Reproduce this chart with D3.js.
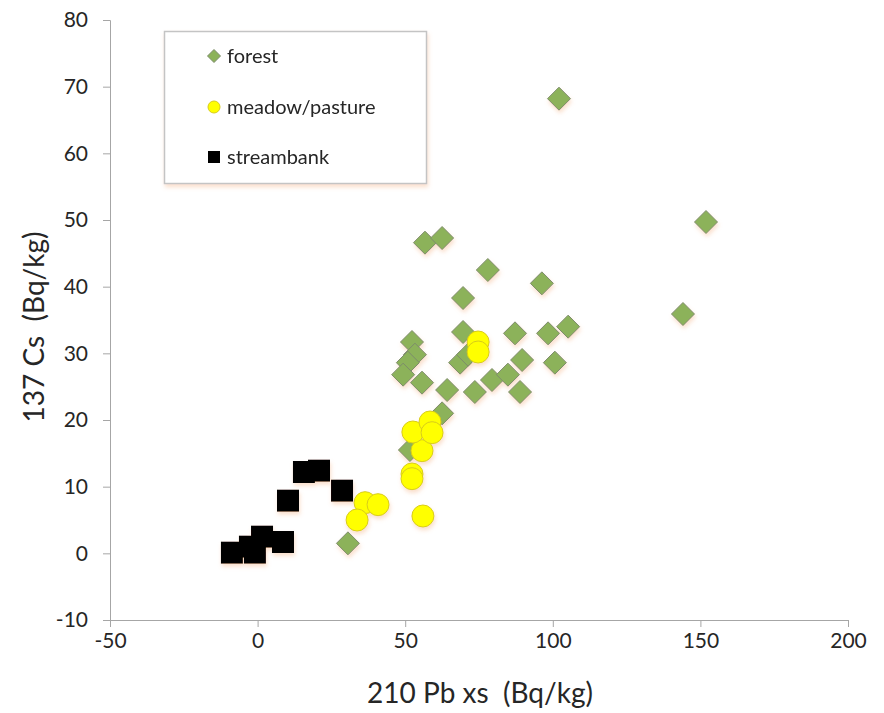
<!DOCTYPE html>
<html>
<head>
<meta charset="utf-8">
<script src="https://cdn.jsdelivr.net/npm/d3@7"></script>
<style>
  html, body { margin: 0; padding: 0; background: #fff; }
  svg text { font-family: Lato, "Open Sans", sans-serif; fill: #262626; }
</style>
</head>
<body>
<div id="chart"></div>
<script>
// --- data: [210Pb xs, 137Cs] in Bq/kg ---
const forest = [
  [56.7, 46.6], [62.5, 47.3], [78, 42.5], [96.3, 40.5], [69.6, 38.3],
  [69.6, 33.2], [87.2, 33.0], [98.4, 33.0], [105.2, 34.0], [52.3, 31.7],
  [53.3, 29.8], [50.9, 28.6], [49.3, 26.8], [55.7, 25.6], [64.2, 24.5],
  [68.6, 28.6], [71.3, 29.8], [73.6, 24.2], [79.4, 26.0], [84.8, 26.8],
  [89.6, 29.0], [88.9, 24.2], [100.7, 28.6], [62.5, 21.0], [51.6, 15.5],
  [30.6, 1.5], [102.1, 68.2], [151.9, 49.7], [144.1, 35.9]
];
const meadow = [
  [36.4, 7.6], [40.8, 7.3], [33.7, 5.0], [56, 5.6], [52.3, 11.9],
  [52.3, 11.2], [55.7, 15.4], [52.6, 18.2], [58.4, 19.7], [59.1, 18.1],
  [74.7, 31.7], [74.7, 30.2]
];
const streambank = [
  [15.7, 12.2], [20.8, 12.4], [10.3, 7.9], [28.6, 9.4], [-8.7, 0.1],
  [-2.6, 1.0], [1.5, 2.5], [-0.9, 0.1], [8.6, 1.7]
];
const xTicks = [-50, 0, 50, 100, 150, 200];
const yTicks = [-10, 0, 10, 20, 30, 40, 50, 60, 70, 80];
const seriesNames = ["forest", "meadow/pasture", "streambank"];

const W = 884, H = 713;
const axisColor = "#a6a6a6";

const svg = d3.select("#chart").append("svg")
  .attr("width", W).attr("height", H);

// soft orange-ish shadow like the office chart
const defs = svg.append("defs");
const f = defs.append("filter").attr("id", "shadow")
  .attr("x", "-50%").attr("y", "-50%").attr("width", "200%").attr("height", "200%");
f.append("feDropShadow").attr("dx", 1).attr("dy", 3).attr("stdDeviation", 2)
  .attr("flood-color", "#f2a46e").attr("flood-opacity", 0.35);

const x = d3.scaleLinear().domain([-50, 200]).range([110, 848]);
const y = d3.scaleLinear().domain([-10, 80]).range([620, 20]);

// axes (plain hyphen for negatives, as in the original)
const xAxis = svg.append("g")
  .attr("transform", `translate(0,${y(-10)})`)
  .call(d3.axisBottom(x).tickValues(xTicks).tickFormat(d => String(d)).tickSize(7).tickPadding(6));
const yAxis = svg.append("g")
  .attr("transform", `translate(${x(-50)},0)`)
  .call(d3.axisLeft(y).tickValues(yTicks).tickFormat(d => String(d)).tickSize(7).tickPadding(15));
[xAxis, yAxis].forEach(g => {
  g.selectAll("path, line").attr("stroke", axisColor);
  g.selectAll("text").style("font-size", "21px").attr("fill", "#262626");
});

// axis titles
svg.append("text")
  .attr("x", 480).attr("y", 703)
  .attr("text-anchor", "middle")
  .style("font-size", "28px")
  .attr("xml:space", "preserve")
  .text("210 Pb xs  (Bq/kg)");
svg.append("text")
  .attr("transform", `translate(44,${327}) rotate(-90)`)
  .attr("text-anchor", "middle")
  .style("font-size", "28px")
  .attr("xml:space", "preserve")
  .text("137 Cs  (Bq/kg)");

// marker shapes
const diamond = s => `M0,${-s}L${s},0L0,${s}L${-s},0Z`;

const marks = svg.append("g").attr("filter", "url(#shadow)");

marks.selectAll(".forest").data(forest).enter().append("path")
  .attr("class", "forest")
  .attr("transform", d => `translate(${x(d[0])},${y(d[1])})`)
  .attr("d", diamond(11.5))
  .attr("fill", "#8cb25a").attr("stroke", "#7d8c6c").attr("stroke-width", 1);

marks.selectAll(".meadow").data(meadow).enter().append("circle")
  .attr("class", "meadow")
  .attr("cx", d => x(d[0])).attr("cy", d => y(d[1])).attr("r", 11)
  .attr("fill", "#ffff00").attr("stroke", "#d8cc1a").attr("stroke-width", 1);

marks.selectAll(".stream").data(streambank).enter().append("rect")
  .attr("class", "stream")
  .attr("x", d => x(d[0]) - 11).attr("y", d => y(d[1]) - 11)
  .attr("width", 22).attr("height", 22)
  .attr("fill", "#000");

// legend
const legend = svg.append("g");
legend.append("rect")
  .attr("x", 164.5).attr("y", 31.5).attr("width", 262).attr("height", 152)
  .attr("fill", "#fff").attr("stroke", "#c4c4c4").attr("stroke-width", 1.5)
  .attr("filter", "url(#shadow)");
const rowY = [56, 107, 157];
seriesNames.forEach((name, i) => {
  const g = legend.append("g").attr("transform", `translate(214,${rowY[i]})`);
  if (i === 0) g.append("path").attr("d", diamond(6.5)).attr("fill", "#8cb25a").attr("stroke", "#7d8c6c");
  if (i === 1) g.append("circle").attr("r", 6).attr("fill", "#ffff00").attr("stroke", "#d8cc1a");
  if (i === 2) g.append("rect").attr("x", -6).attr("y", -6).attr("width", 12).attr("height", 12).attr("fill", "#000");
  g.append("text").attr("x", 13).attr("dy", "0.35em")
    .style("font-size", "20px").text(name);
});
</script>
</body>
</html>
